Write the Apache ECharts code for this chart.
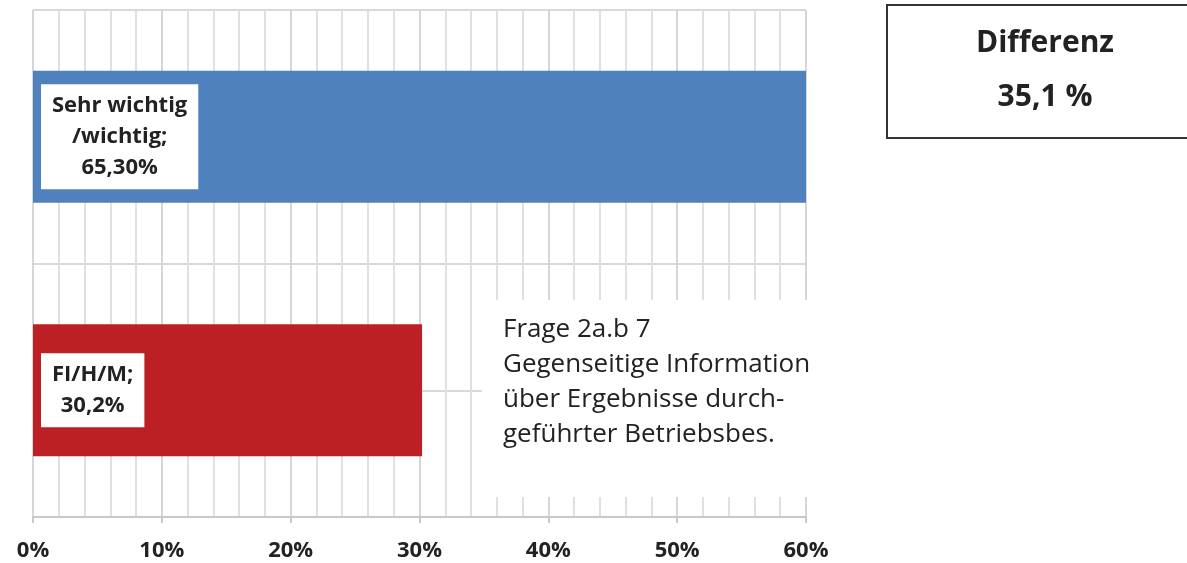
<!DOCTYPE html>
<html>
<head>
<meta charset="utf-8">
<script src="https://cdn.jsdelivr.net/npm/echarts@6/dist/echarts.min.js"></script>
<style>
html,body{margin:0;padding:0;background:#fff;}
#c{width:1187px;height:563px;}
</style>
</head>
<body>
<div id="c"></div>
<script>
// Data
const categories = ['FI/H/M', 'Sehr wichtig/wichtig'];
const values = [30.2, 65.3];
const barLabels = ['FI/H/M;\n30,2%', 'Sehr wichtig\n/wichtig;\n65,30%'];
const xTicks = [0, 10, 20, 30, 40, 50, 60];
const noteLines = ['Frage 2a.b 7', 'Gegenseitige Information', 'über Ergebnisse durch-', 'geführter Betriebsbes.'];
const diffTitle = 'Differenz';
const diffValue = '35,1 %';

const palette = ['#BC1F24', '#4F81BD'];
const FONT = '"Open Sans", Lato, sans-serif';
const chart = echarts.init(document.getElementById('c'), null, {renderer: 'canvas'});

const option = {
  animation: false,
  backgroundColor: '#fff',
  grid: {left: 33, right: 381, top: 10, bottom: 46, containLabel: false},
  xAxis: {
    type: 'value',
    min: xTicks[0],
    max: xTicks[xTicks.length - 1],
    interval: 10,
    axisLine: {show: true, lineStyle: {color: '#c8c8c8', width: 2}},
    axisTick: {show: true, length: 6, lineStyle: {color: '#c8c8c8', width: 2}},
    minorTick: {show: false, splitNumber: 5},
    splitLine: {show: true, lineStyle: {color: '#d6d6d6', width: 2}},
    minorSplitLine: {show: true, lineStyle: {color: '#e0e0e0', width: 2}},
    axisLabel: {
      margin: 23, fontFamily: FONT, fontWeight: 'bold', fontSize: 22, color: '#222',
      formatter: v => v + '%'
    }
  },
  yAxis: [
    {
      type: 'category',
      data: categories,
      axisLine: {show: false},
      axisTick: {show: false},
      axisLabel: {show: false},
      splitLine: {show: false}
    },
    {
      type: 'value',
      min: 0, max: 4, interval: 1,
      position: 'right',
      axisLine: {show: false},
      axisTick: {show: false},
      axisLabel: {show: false},
      splitLine: {show: true, lineStyle: {color: '#d9d9d9', width: 2}}
    }
  ],
  series: [{
    type: 'bar',
    yAxisIndex: 0,
    barWidth: '52%',
    data: values.map((v, i) => ({
      value: v,
      itemStyle: {color: palette[i]},
      label: {formatter: barLabels[i]}
    })),
    label: {
      show: true,
      position: 'insideLeft',
      distance: 8,
      backgroundColor: '#fff',
      padding: [6, 11, 6, 11],
      fontFamily: FONT,
      fontWeight: 'bold',
      fontSize: 22,
      lineHeight: 31,
      color: '#222'
    },
    labelLayout: function (p) {
      return {
        x: p.rect.x + 8 + p.labelRect.width / 2,
        y: p.rect.y + p.rect.height / 2,
        align: 'center',
        verticalAlign: 'middle'
      };
    },
    clip: true
  }],
  graphic: [
    {type: 'rect', z: 100, shape: {x: 482, y: 300, width: 345, height: 197}, style: {fill: '#fff'}},
    {type: 'text', z: 101, left: 503, top: 312, style: {
      text: noteLines.join('\n'), fontFamily: FONT, fontSize: 26, lineHeight: 35, fill: '#222'
    }},
    {type: 'rect', z: 100, shape: {x: 887, y: 5, width: 330, height: 133}, style: {fill: '#fff', stroke: '#333', lineWidth: 2}},
    {type: 'text', z: 101, x: 1045, y: 43, style: {
      text: diffTitle, align: 'center', verticalAlign: 'middle',
      fontFamily: FONT, fontWeight: 'bold', fontSize: 30, fill: '#222'
    }},
    {type: 'text', z: 101, x: 1045, y: 97, style: {
      text: diffValue, align: 'center', verticalAlign: 'middle',
      fontFamily: FONT, fontWeight: 'bold', fontSize: 30, fill: '#222'
    }}
  ]
};
chart.setOption(option);
</script>
</body>
</html>
